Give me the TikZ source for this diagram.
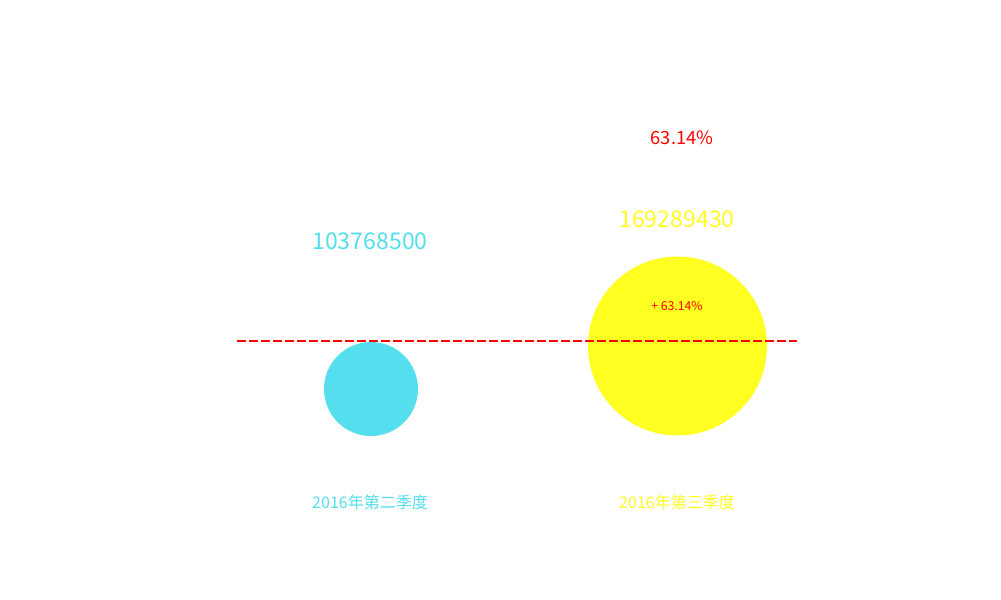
\documentclass[tikz,border=0pt]{standalone}
\usepackage{fontspec}
\setmainfont{Noto Sans CJK SC}
\definecolor{cyanc}{RGB}{85,222,237}
\definecolor{yelc}{RGB}{255,255,34}
\definecolor{redc}{RGB}{255,0,0}
\tikzset{
  valtext/.style={font=\fontsize{17.3pt}{19pt}\selectfont, inner sep=0pt, anchor=center},
  pcttext/.style={font=\fontsize{13.7pt}{15pt}\selectfont, text=redc, inner sep=0pt},
  smalltext/.style={font=\fontsize{9.2pt}{10pt}\selectfont, text=redc, inner sep=0pt},
  labtext/.style={font=\fontsize{12pt}{14pt}\selectfont, inner sep=0pt},
  bubble/.style={circle, inner sep=0pt, draw=none},
}
\begin{document}
\begin{tikzpicture}[x=0.75pt,y=-0.75pt]
\useasboundingbox[fill=white] (0,0) rectangle (1001,600);
\node[bubble, fill=cyanc, minimum size=94*0.75pt] (c1) at (371,389) {};
\node[bubble, fill=yelc, minimum size=179*0.75pt] (c2) at (677.5,346) {};
\coordinate (l1) at (237,341);
\coordinate (l2) at (797,341);
\draw[redc, line width=1.5pt, dash pattern=on 6.5pt off 2.5pt] (l1) -- (l2);
\node[valtext, text=cyanc] (v1) at (370,241) {103768500};
\node[valtext, text=yelc] (v2) at (677,219) {169289430};
\node[pcttext] (p1) at (682,138) {63.14\%};
\node[smalltext] (p2) at (677,306) {+ 63.14\%};
\node[labtext, text=cyanc] (b1) at (370,502) {2016年第二季度};
\node[labtext, text=yelc] (b2) at (677,502) {2016年第三季度};
\end{tikzpicture}
\end{document}
